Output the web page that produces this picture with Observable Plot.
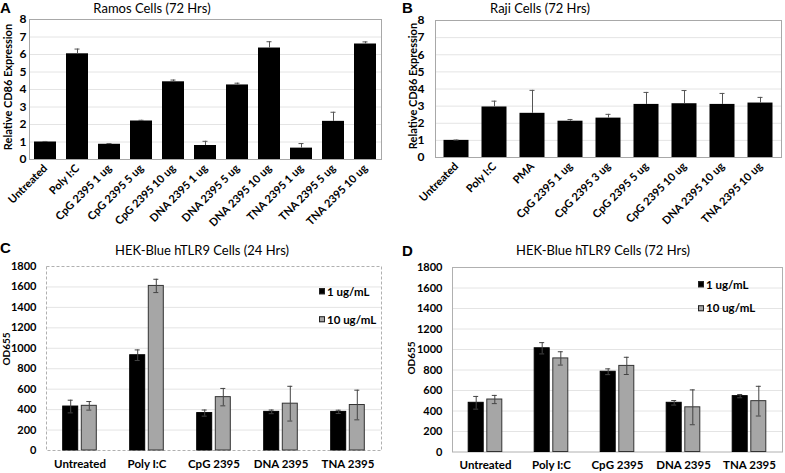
<!DOCTYPE html>
<html><head><meta charset="utf-8">
<script src="https://cdn.jsdelivr.net/npm/d3@7"></script>
<script src="https://cdn.jsdelivr.net/npm/@observablehq/plot@0.6"></script>
<style>
body{margin:0;background:#fff;}
#root{position:relative;width:785px;height:473px;overflow:hidden;font-family:Lato,sans-serif;color:#000;}
#root svg{position:absolute;}
.abs{position:absolute;white-space:nowrap;line-height:1;}
.letter{font-family:"Liberation Sans",Arial,sans-serif;font-weight:bold;font-size:15px;}
.title{font-size:13px;transform:translate(-50%,-50%);}
.ylab{font-weight:bold;font-size:11px;transform:translate(-50%,-50%) rotate(-90deg);}
.leg{font-weight:bold;font-size:11.5px;display:flex;align-items:center;transform:translateY(-50%);}
.sw{width:6px;height:6px;margin-right:2px;box-sizing:border-box;border:1px solid #222;}
</style></head><body><div id="root"></div>
<script>
// Panel A: Ramos Cells (72 Hrs)
const catsA = ["Untreated","Poly I:C","CpG 2395 1 ug","CpG 2395 5 ug","CpG 2395 10 ug","DNA 2395 1 ug","DNA 2395 5 ug","DNA 2395 10 ug","TNA 2395 1 ug","TNA 2395 5 ug","TNA 2395 10 ug"];
const valsA = [1.0, 6.04, 0.87, 2.2, 4.44, 0.8, 4.26, 6.37, 0.65, 2.18, 6.6];
const errA  = [0.03, 0.27, 0.04, 0.04, 0.1, 0.24, 0.1, 0.36, 0.26, 0.52, 0.12];
const ticksAB = [0,1,2,3,4,5,6,7,8];

// Panel B: Raji Cells (72 Hrs)
const catsB = ["Untreated","Poly I:C","PMA","CpG 2395 1 ug","CpG 2395 3 ug","CpG 2395 5 ug","CpG 2395 10 ug","DNA 2395 10 ug","TNA 2395 10 ug"];
const valsB = [1.0, 2.95, 2.58, 2.12, 2.3, 3.1, 3.14, 3.1, 3.18];
const errB  = [0.02, 0.34, 1.34, 0.1, 0.22, 0.7, 0.77, 0.64, 0.33];

// Panels C & D: HEK-Blue hTLR9 Cells
const catsCD = ["Untreated","Poly I:C","CpG 2395","DNA 2395","TNA 2395"];
const seriesNames = ["1 ug/mL","10 ug/mL"];
const ticksCD = [0,200,400,600,800,1000,1200,1400,1600,1800];
const c1    = [430, 932, 366, 378, 378];
const c1err = [62, 52, 30, 18, 16];
const c10   = [437, 1610, 522, 458, 445];
const c10err= [42, 65, 85, 170, 145];
const d1    = [480, 1012, 783, 480, 545];
const d1err = [62, 55, 28, 22, 16];
const d10   = [512, 913, 840, 436, 496];
const d10err= [40, 65, 84, 170, 145];

const root = document.getElementById("root");
const styleBase = {fontFamily:"Lato", fontWeight:"bold", color:"#000", background:"transparent", overflow:"visible"};

function place(svg, left, top){ svg.style.left = left+"px"; svg.style.top = top+"px"; root.appendChild(svg); }
function html(cls, text, left, top, extra){
  const d = document.createElement("div");
  d.className = "abs " + cls; d.textContent = text;
  d.style.left = left+"px"; d.style.top = top+"px";
  if (extra) Object.assign(d.style, extra);
  root.appendChild(d); return d;
}
function legend(left, top1, top2){
  [[seriesNames[0], "#000", top1],[seriesNames[1], "#a6a6a6", top2]].forEach(([t, c, y])=>{
    const d = document.createElement("div"); d.className = "abs leg";
    d.style.left = left+"px"; d.style.top = y+"px";
    const s = document.createElement("span"); s.className = "sw"; s.style.background = c;
    d.appendChild(s); d.appendChild(document.createTextNode(t)); root.appendChild(d);
  });
}

function singlePanel(cats, vals, errs, o){
  const data = cats.map((c,i)=>({cat:c, v:vals[i], e:errs[i]}));
  return Plot.plot({
    width:o.width, height:o.height, marginLeft:o.ml, marginRight:o.mr, marginTop:o.mt, marginBottom:o.mb,
    style:{...styleBase, fontSize:"11px"},
    x:{domain:cats, padding:0, label:null, axis:null},
    y:{domain:[0,8], label:null, axis:null},
    marks:[
      Plot.gridY(ticksAB.slice(1,-1), {stroke:"#e4e4e4", strokeOpacity:1}),
      Plot.frame({stroke:"#a8a8a8"}),
      Plot.barY(data, {x:"cat", y:"v", fill:"#000", insetLeft:o.inset, insetRight:o.inset}),
      Plot.ruleX(data, {x:"cat", y1:"v", y2:d=>d.v+d.e, stroke:"#555"}),
      Plot.tickY(data, {x:"cat", y:d=>d.v+d.e, stroke:"#555", insetLeft:o.capInset, insetRight:o.capInset}),
      Plot.axisX({tickRotate:-45, tickSize:0, tickPadding:7, label:null, fontSize:11}),
      Plot.axisY(ticksAB, {tickSize:0, tickPadding:o.tp, label:null, fontSize:12, tickFormat:d3.format("d")})
    ]
  });
}

function groupPanel(s1, e1, s2, e2, o){
  const a = catsCD.map((c,i)=>({cat:c, v:s1[i], e:e1[i]}));
  const b = catsCD.map((c,i)=>({cat:c, v:s2[i], e:e2[i]}));
  const off = 9.3;
  return Plot.plot({
    width:o.width, height:o.height, marginLeft:o.ml, marginRight:o.mr, marginTop:o.mt, marginBottom:o.mb,
    style:{...styleBase, fontSize:"11px"},
    x:{domain:catsCD, padding:0, label:null, axis:null},
    y:{domain:[0,1800], label:null, axis:null},
    marks:[
      Plot.gridY(ticksCD.slice(1,-1), {stroke:"#e4e4e4", strokeOpacity:1}),
      Plot.frame({stroke:"#b0b0b0", strokeDasharray:o.dash}),
      Plot.barY(a, {x:"cat", y:"v", fill:"#000", stroke:"#000", insetLeft:o.inset, insetRight:o.inset, dx:-off}),
      Plot.barY(b, {x:"cat", y:"v", fill:"#a6a6a6", stroke:"#333", insetLeft:o.inset, insetRight:o.inset, dx:off}),
      Plot.ruleX(a, {x:"cat", y1:d=>d.v-d.e, y2:d=>d.v+d.e, stroke:"#444", dx:-off}),
      Plot.ruleX(b, {x:"cat", y1:d=>d.v-d.e, y2:d=>d.v+d.e, stroke:"#444", dx:off}),
      Plot.tickY(a, {x:"cat", y:d=>d.v+d.e, stroke:"#444", insetLeft:o.capInset, insetRight:o.capInset, dx:-off}),
      Plot.tickY(a, {x:"cat", y:d=>d.v-d.e, stroke:"#444", insetLeft:o.capInset, insetRight:o.capInset, dx:-off}),
      Plot.tickY(b, {x:"cat", y:d=>d.v+d.e, stroke:"#444", insetLeft:o.capInset, insetRight:o.capInset, dx:off}),
      Plot.tickY(b, {x:"cat", y:d=>d.v-d.e, stroke:"#444", insetLeft:o.capInset, insetRight:o.capInset, dx:off}),
      Plot.axisX({tickSize:0, tickPadding:9, label:null, fontSize:11.5}),
      Plot.axisY(ticksCD, {tickSize:0, tickPadding:10, label:null, fontSize:11, tickFormat:d3.format("d")})
    ]
  });
}

// A
place(singlePanel(catsA, valsA, errA, {width:385, height:235, ml:29, mr:4, mt:19, mb:76, inset:5, capInset:13.5, tp:3}), 0, 0);
html("letter", "A", 0, 0);
html("title", "Ramos Cells (72 Hrs)", 152, 7.5);
html("ylab", "Relative CD86 Expression", 7, 87);

// B
place(singlePanel(catsB, valsB, errB, {width:400, height:235, ml:50, mr:4, mt:20, mb:78, inset:6.5, capInset:16.5, tp:11}), 385, 0);
html("letter", "B", 402, 0);
html("title", "Raji Cells (72 Hrs)", 540, 7.5);
html("ylab", "Relative CD86 Expression", 412, 86);

// C
place(groupPanel(c1, c1err, c10, c10err, {width:385, height:238, ml:46, mr:4, mt:31, mb:23, inset:26, capInset:31, dash:"3,2"}), 0, 235);
html("letter", "C", 0, 240);
html("title", "HEK-Blue hTLR9 Cells (24 Hrs)", 202, 250);
html("ylab", "OD655", 6, 349, {fontSize:"10px"});
legend(319, 291.5, 319.5);

// D
place(groupPanel(d1, d1err, d10, d10err, {width:400, height:238, ml:67, mr:3, mt:32, mb:21.5, inset:25.5, capInset:30.5, dash:null}), 385, 235);
html("letter", "D", 402, 243);
html("title", "HEK-Blue hTLR9 Cells (72 Hrs)", 603, 250);
html("ylab", "OD655", 411, 358, {fontSize:"10px"});
legend(698, 284.5, 308);
</script></body></html>
